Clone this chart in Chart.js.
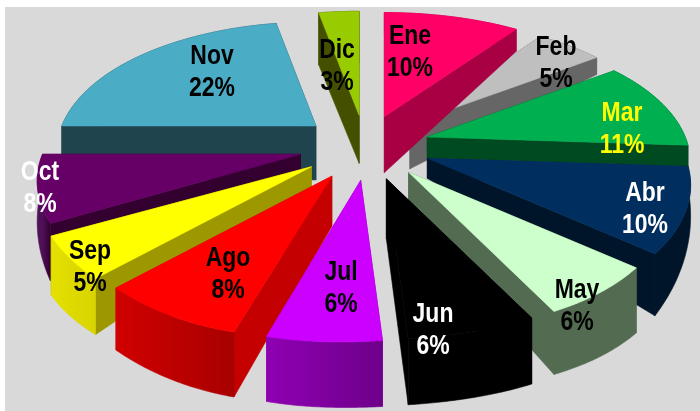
<!DOCTYPE html>
<html>
<head>
<meta charset="utf-8">
<style>html,body{margin:0;padding:0;background:#fff}canvas{display:block}</style>
<script src="https://cdn.jsdelivr.net/npm/chart.js@4"></script>
</head>
<body>
<canvas id="c" width="700" height="411"></canvas>
<script>
const categories = ['Ene','Feb','Mar','Abr','May','Jun','Jul','Ago','Sep','Oct','Nov','Dic'];
const shares = [10,5,11,10,6,6,6,8,5,8,22,3];

const topColors  = ['#FF0066','#BFBFBF','#00B050','#002F5F','#CCFFCC','#000000','#CC00FF','#FF0000','#FFFF00','#660066','#4BACC6','#99CC00'];
const sideColors = ['#A80042','#666666','#004A22','#001529','#536B50','#000000','#7A0099','#C40000','#9E9800','#33002F','#1F444D','#445000'];
const rimStart   = ['#A80042','#666666','#004A22','#001529','#536B50','#000000','#6F008A','#A80000','#D8D400','#33002F','#1F444D','#445000'];
const rimEnd     = ['#A80042','#666666','#004A22','#001529','#536B50','#000000','#8E00B2','#D00000','#E4E000','#4F1058','#1F444D','#445000'];
const labelColors= ['#000','#000','#FFFF00','#fff','#000','#fff','#000','#000','#000','#fff','#000','#000'];
// wall height of each slice: at the tip, at its first edge, at its last edge
const wallTip   = [56,45,21,20,40,60,60,50,22,22,54,48];
const wallFirst = [22,17,21,22,65,66,66,65,56,57,50,52];
const wallLast  = [22,17,21,62,63,66,65,62,59,30,40,52];
// horizontal reach of each slice's rim, relative to the common radius
const reach = [1.01,1,1,1,1,1,1,1.04,1.04,1,0.985,1];
// where each two-line label sits on the page
const labelX = [410,556,622,645,577,433,341,228,90,40,212,337];
const labelY = [51,62,128,208,305,329,287,273,266,187,71,65];
// painter's order, back to front
const paintOrder = [10,11,1,0,2,3,4,9,8,7,5,6];

const HALF_WIDTH = 258, HALF_DEPTH = 128, PERSP_X = 0.2, PERSP_Y = 0.23, FRONT_SKEW = 20, FRONT_FLAT = 5, STEPS = 48;

function project(ux, uy){
  const front = uy > 0 ? Math.pow(uy,10) : 0;
  return [HALF_WIDTH*ux/(1 - PERSP_X*uy) - FRONT_SKEW*front, HALF_DEPTH*uy/(1 - PERSP_Y*uy) - FRONT_FLAT*front];
}

const pie3d = {
  id:'pie3d',
  beforeDraw(chart){
    const ctx = chart.ctx;
    ctx.save();
    ctx.fillStyle = '#fff';
    ctx.fillRect(0,0,chart.width,chart.height);
    ctx.fillStyle = '#D9D9D9';
    ctx.fillRect(5,7,chart.width-5,chart.height-7);
    ctx.restore();
  },
  beforeDatasetDraw(chart, args){
    const ctx = chart.ctx, arcs = chart.getDatasetMeta(args.index).data;
    ctx.save();
    ctx.lineJoin = 'round';
    paintOrder.forEach(i => {
      const arc = arcs[i], a0 = arc.startAngle, a1 = arc.endAngle, mid = (a0+a1)/2;
      const e = arc.options.offset/arc.outerRadius;
      const off = project(e*Math.cos(mid), e*Math.sin(mid));
      const tx = arc.x + off[0], ty = arc.y + off[1];
      const rim = [], low = [];
      for(let s=0;s<=STEPS;s++){
        const f = s/STEPS, a = a0+(a1-a0)*f, p = project(Math.cos(a),Math.sin(a));
        const x = tx+p[0]*reach[i], y = ty+p[1];
        rim.push([x,y]);
        low.push([x, y + wallFirst[i] + (wallLast[i]-wallFirst[i])*f]);
      }
      const poly = (pts, fill) => {
        ctx.beginPath();
        pts.forEach((p,k)=> k ? ctx.lineTo(p[0],p[1]) : ctx.moveTo(p[0],p[1]));
        ctx.closePath();
        ctx.fillStyle = fill; ctx.strokeStyle = fill; ctx.lineWidth = 0.6;
        ctx.fill(); ctx.stroke();
      };
      const tipTop=[tx,ty], tipLow=[tx,ty+wallTip[i]];
      poly([tipTop,rim[0],low[0],tipLow], sideColors[i]);
      poly([tipTop,rim[STEPS],low[STEPS],tipLow], sideColors[i]);
      const g = ctx.createLinearGradient(rim[0][0],0,rim[STEPS][0]+0.01,0);
      g.addColorStop(0,rimStart[i]); g.addColorStop(1,rimEnd[i]);
      poly(rim.concat(low.slice().reverse()), g);
      poly([tipTop].concat(rim), topColors[i]);
    });
    ctx.restore();
    return false;
  },
  afterDatasetsDraw(chart){
    const ctx = chart.ctx;
    ctx.save();
    ctx.font = 'bold 28px "Liberation Sans", Arial, sans-serif';
    ctx.textAlign = 'center';
    ctx.textBaseline = 'middle';
    categories.forEach((c,i)=>{
      ctx.fillStyle = labelColors[i];
      [c, shares[i]+'%'].forEach((t,k)=>{
        ctx.save();
        ctx.translate(labelX[i], labelY[i] + 1 + (k ? 16 : -16));
        ctx.scale(0.82,1);
        ctx.fillText(t,0,0);
        ctx.restore();
      });
    });
    ctx.restore();
  }
};

new Chart(document.getElementById('c'),{
  type:'pie',
  data:{labels:categories,datasets:[{data:shares,backgroundColor:topColors,borderWidth:0,offset:33}]},
  options:{
    responsive:false,
    animation:false,
    layout:{padding:{left:30,right:0,top:0,bottom:119}},
    plugins:{legend:{display:false},tooltip:{enabled:false},title:{display:false}}
  },
  plugins:[pie3d]
});
</script>
</body>
</html>
